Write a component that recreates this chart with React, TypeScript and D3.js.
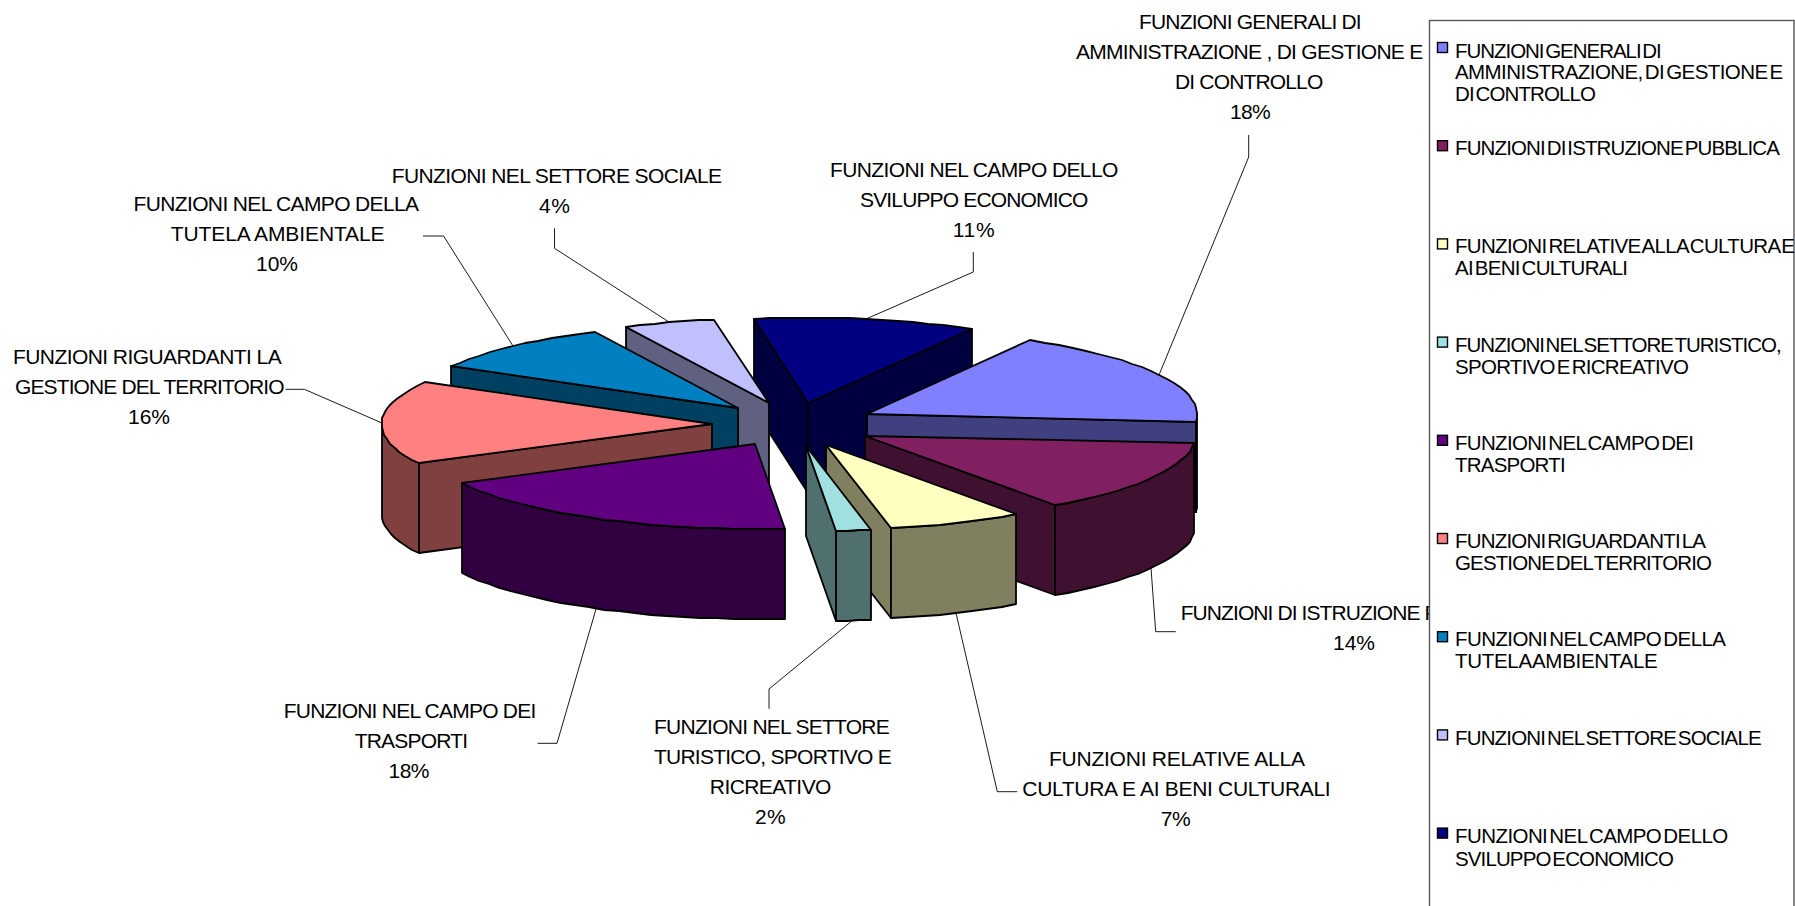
import React from "react";
import * as d3 from "d3";

// ---- data ----
const categories = [
  "FUNZIONI GENERALI DI AMMINISTRAZIONE, DI GESTIONE E DI CONTROLLO",
  "FUNZIONI DI ISTRUZIONE PUBBLICA",
  "FUNZIONI RELATIVE ALLA CULTURA E AI BENI CULTURALI",
  "FUNZIONI NEL SETTORE TURISTICO, SPORTIVO E RICREATIVO",
  "FUNZIONI NEL CAMPO DEI TRASPORTI",
  "FUNZIONI RIGUARDANTI LA GESTIONE DEL TERRITORIO",
  "FUNZIONI NEL CAMPO DELLA TUTELA AMBIENTALE",
  "FUNZIONI NEL SETTORE SOCIALE",
  "FUNZIONI NEL CAMPO DELLO SVILUPPO ECONOMICO",
];
const sliceShares = [18.14, 13.89, 6.58, 1.69, 18.8, 15.89, 9.64, 4.47, 10.9];
const percentLabels = ["18%", "14%", "7%", "2%", "18%", "16%", "10%", "4%", "11%"];
const topColors = ["#8080FF", "#802060", "#FFFFC0", "#A0E0E0", "#600080", "#FF8080", "#0080C0", "#C0C0FF", "#000080"];
const sideColors = ["#404080", "#401030", "#808060", "#507070", "#300040", "#804040", "#004060", "#606080", "#000040"];

// ---- layout ----
const W = 1795, H = 906;
const CX = 794, CY = 424.5, RX = 330.5, RY = 85, DEPTH = 90;
const EXPLODE_X = 0.248, EXPLODE_Y = 0.26;
const START_DEG = 29.7;
const paintOrder = [8, 7, 6, 5, 0, 1, 2, 4, 3];

type Line = [string, number, number, number];
// text, x start, x end, baseline
const dataLabelLines: Line[][] = [
  [["FUNZIONI GENERALI DI", 1139, 1361.7, 29], ["AMMINISTRAZIONE , DI GESTIONE E", 1076, 1423.3, 59], ["DI CONTROLLO", 1175, 1323.3, 89], ["18%", 1230, 1270.7, 119]],
  [["FUNZIONI DI ISTRUZIONE PUBBLICA", 1180.7, 1522, 620], ["14%", 1333, 1375, 650]],
  [["FUNZIONI RELATIVE ALLA", 1049, 1305, 765.7], ["CULTURA E AI BENI CULTURALI", 1022.3, 1330.7, 796], ["7%", 1160.7, 1190.7, 826]],
  [["FUNZIONI NEL SETTORE", 654, 889.8, 734], ["TURISTICO, SPORTIVO E", 653.9, 891.8, 764], ["RICREATIVO", 709.8, 831.4, 794], ["2%", 755, 785.7, 824]],
  [["FUNZIONI NEL CAMPO DEI", 283.7, 536.3, 718], ["TRASPORTI", 354.7, 468, 748], ["18%", 388.6, 429.4, 778]],
  [["FUNZIONI RIGUARDANTI LA", 13, 281.7, 363.7], ["GESTIONE DEL TERRITORIO", 15, 284.6, 394], ["16%", 128, 170, 424]],
  [["FUNZIONI NEL CAMPO DELLA", 133.6, 419, 211], ["TUTELA AMBIENTALE", 170.8, 384.6, 240.7], ["10%", 256, 298, 271]],
  [["FUNZIONI NEL SETTORE SOCIALE", 391.7, 722, 183], ["4%", 539, 570, 213]],
  [["FUNZIONI NEL CAMPO DELLO", 830, 1118.3, 176.7], ["SVILUPPO ECONOMICO", 860, 1088.3, 207], ["11%", 952.7, 994.7, 237]],
];
// first two points of each leader; the third is computed on the slice rim
const leaderStarts: [number, number][][] = [
  [[1248.7, 135], [1248.7, 157]],
  [[1175.7, 631.7], [1155.7, 631.7]],
  [[1017.3, 791.7], [997.3, 791.7]],
  [[769, 708.7], [769, 689]],
  [[537.6, 743.3], [557, 743.3]],
  [[285.5, 389.3], [304.4, 389.3]],
  [[423, 236], [443.6, 236]],
  [[554.5, 228.3], [554.5, 248.3]],
  [[973.3, 252], [973.3, 272]],
];
const legendLines: [string, number, number][][] = [
  [["FUNZIONI GENERALI DI", 206.7, 57.5], ["AMMINISTRAZIONE, DI GESTIONE E", 328.3, 79.2], ["DI CONTROLLO", 141, 100.9]],
  [["FUNZIONI DI ISTRUZIONE PUBBLICA", 325, 155]],
  [["FUNZIONI RELATIVE ALLA CULTURA E", 340, 252.5], ["AI BENI CULTURALI", 173, 274.5]],
  [["FUNZIONI NEL SETTORE TURISTICO,", 326.7, 351.5], ["SPORTIVO E RICREATIVO", 234, 373.9]],
  [["FUNZIONI NEL CAMPO DEI", 239, 450], ["TRASPORTI", 110.7, 472]],
  [["FUNZIONI RIGUARDANTI LA", 251, 548], ["GESTIONE DEL TERRITORIO", 257, 570]],
  [["FUNZIONI NEL CAMPO DELLA", 271, 646], ["TUTELA AMBIENTALE", 202.7, 668]],
  [["FUNZIONI NEL SETTORE SOCIALE", 306.7, 745.3]],
  [["FUNZIONI NEL CAMPO DELLO", 273.3, 842.5], ["SVILUPPO ECONOMICO", 219, 866]],
];

const FONT = "'Liberation Sans', Arial, sans-serif";

const x = d3.scaleLinear().domain([-1, 1]).range([CX - RX, CX + RX]);
const y = d3.scaleLinear().domain([-1, 1]).range([CY - RY, CY + RY]);

const start = (START_DEG * Math.PI) / 180;
const pieSlices = d3.pie<number>().sort(null).startAngle(start).endAngle(start + 2 * Math.PI)(sliceShares);
const lineGen = d3.line<[number, number]>();

type P = [number, number];

function makeSlice(i: number) {
  const { startAngle: a0, endAngle: a1 } = pieSlices[i];
  const mid = (a0 + a1) / 2;
  const ox = EXPLODE_X * Math.sin(mid);
  const oy = -EXPLODE_Y * Math.cos(mid);
  const pt = (a: number, r = 1, dz = 0): P => [
    Math.round(x(ox + r * Math.sin(a))),
    Math.round(y(oy - r * Math.cos(a))) + dz,
  ];
  const arcPts = (from: number, to: number, dz = 0): P[] => {
    const n = Math.max(2, Math.ceil((to - from) / (3 * Math.PI / 180)));
    return d3.range(n + 1).map((k) => pt(from + ((to - from) * k) / n, 1, dz));
  };
  const apex = pt(0, 0);
  const apexB: P = [apex[0], apex[1] + DEPTH];
  const walls: { d: string }[] = [];
  if (Math.sin(a0) < 0) {
    walls.push({ d: lineGen([apex, pt(a0), pt(a0, 1, DEPTH), apexB])! + "Z" });
  }
  if (Math.sin(a1) > 0) {
    walls.push({ d: lineGen([apex, pt(a1), pt(a1, 1, DEPTH), apexB])! + "Z" });
  }
  // outer rim: the parts of it facing the viewer (angle between 90 and 270 degrees)
  const ranges: [number, number][] = [];
  for (const turn of [0, 2 * Math.PI]) {
    const lo = Math.max(a0, Math.PI / 2 + turn);
    const hi = Math.min(a1, (3 * Math.PI) / 2 + turn);
    if (hi > lo) ranges.push([lo, hi]);
  }
  const rims = ranges.map(([lo, hi]) => {
    const top = arcPts(lo, hi);
    const bottom = arcPts(lo, hi, DEPTH).reverse();
    return lineGen([...top, ...bottom])! + "Z";
  });
  const topFace = lineGen([apex, ...arcPts(a0, a1)])! + "Z";
  const facing = Math.cos(mid) < 0;
  const leaderEnd = pt(mid, 1, facing ? DEPTH : 0);
  return { walls, rims, topFace, leaderEnd };
}

const slices = sliceShares.map((_, i) => makeSlice(i));

export default function App() {
  return (
    <svg
      width={W}
      height={H}
      viewBox={`0 0 ${W} ${H}`}
      style={{ position: "absolute", left: 0, top: 0, display: "block", background: "#fff" }}
    >
      <g strokeLinejoin="round">
        {paintOrder.map((i) => {
          const s = slices[i];
          return (
            <g key={i} stroke="#000" strokeWidth={1.8}>
              {s.walls.map((w, k) => (
                <path key={"w" + k} d={w.d} fill={sideColors[i]} />
              ))}
              {s.rims.map((d, k) => (
                <path key={"r" + k} d={d} fill={sideColors[i]} />
              ))}
              <path d={s.topFace} fill={topColors[i]} />
            </g>
          );
        })}
      </g>

      <g fill="none" stroke="#000" strokeWidth={0.9}>
        {leaderStarts.map((pts, i) => (
          <path key={i} d={lineGen([...pts, slices[i].leaderEnd])!} />
        ))}
      </g>

      <g fontFamily={FONT} fontSize={21} fill="#000">
        {dataLabelLines.map((lines, i) => (
          <g key={i} aria-label={`${categories[i]} ${percentLabels[i]}`}>
            {lines.map(([t, x0, x1, b], k) => (
              <text key={k} x={x0} y={b} textLength={x1 - x0} lengthAdjust="spacing">
                {t}
              </text>
            ))}
          </g>
        ))}
      </g>

      <rect x={1429.5} y={20.5} width={364.5} height={920} fill="#fff" stroke="#555" strokeWidth={1.4} />
      <g fontFamily={FONT} fontSize={20.5} fill="#000">
        {legendLines.map((lines, i) => (
          <g key={i}>
            <rect x={1437.5} y={42.5 + i * 98.2} width={10} height={10} fill={topColors[i]} stroke="#000" strokeWidth={1.4} />
            {lines.map(([t, w, b], k) => (
              <text key={k} x={1455} y={b} textLength={w} lengthAdjust="spacing" wordSpacing={-3}>
                {t}
              </text>
            ))}
          </g>
        ))}
      </g>
    </svg>
  );
}
